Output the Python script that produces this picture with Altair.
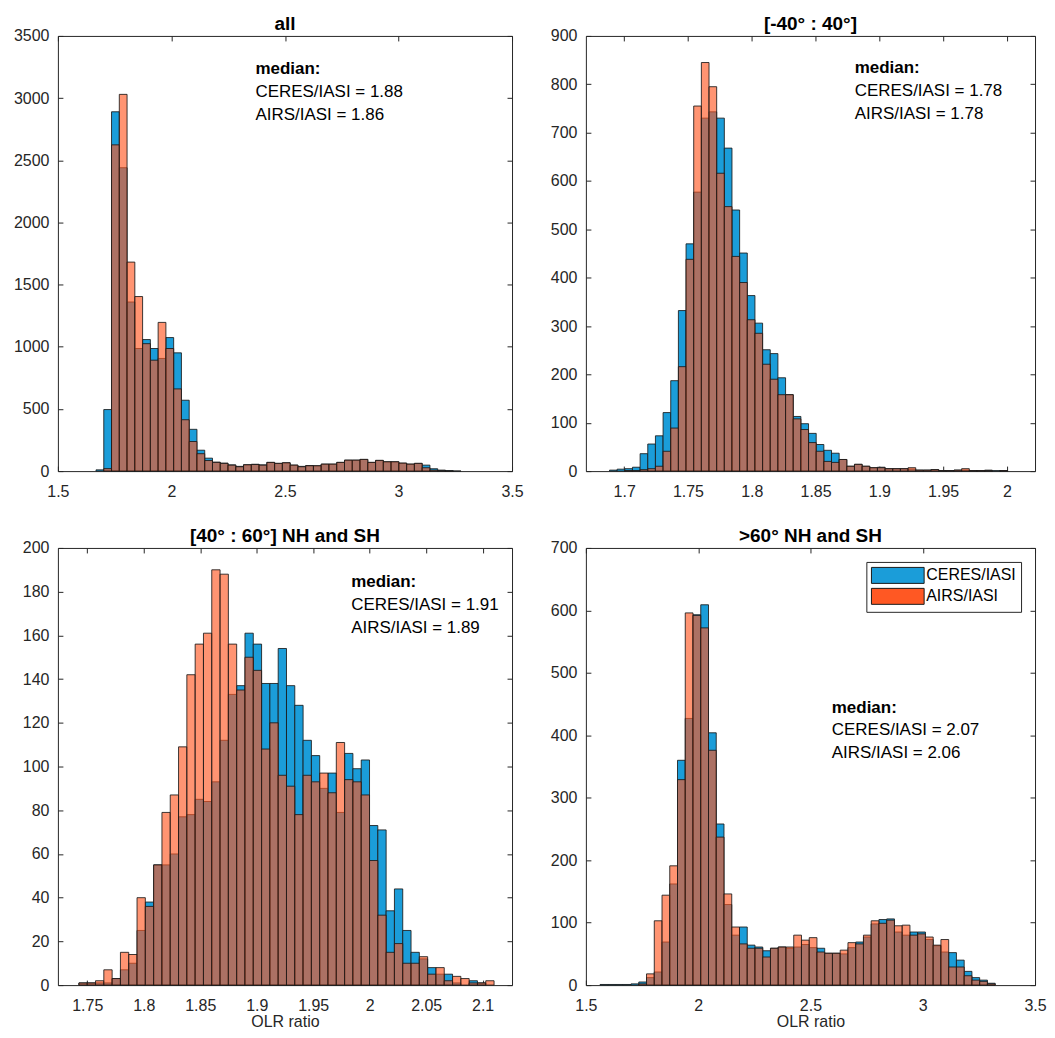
import altair as alt
import pandas as pd

# ---------------- style ----------------
BLUE = "#1b9dd9"
ORANGE = "#ff5823"
ORANGE_ALPHA = 0.64
EDGE = "#1a1a1a"
INK = "#262626"
FONT = "Liberation Sans"
SERIES = ["CERES/IASI", "AIRS/IASI"]

# ---------------- data ----------------
# panel 1: all
p1_start, p1_width = 1.6678, 0.0342
p1_ceres = [10, 495, 2890, 2440, 1360, 986, 1058, 986, 906, 1074, 951, 570, 336, 168, 104,
            72, 64, 50, 38, 51, 55, 50, 70, 62, 67, 48, 38, 45, 43, 56, 56, 70, 88, 88, 94,
            70, 86, 75, 75, 64, 56, 62, 48, 19, 8, 3, 1]
p1_airs = [0, 20, 2624, 3030, 1681, 1404, 1025, 892, 1196, 986, 661, 413, 238, 140, 85,
           70, 62, 48, 35, 51, 53, 48, 70, 62, 67, 48, 35, 43, 43, 56, 56, 70, 88, 88, 94,
           70, 86, 75, 75, 64, 56, 62, 27, 8, 3, 1, 0]

# panel 2: [-40 : 40]
p2_start, p2_width = 1.6885, 0.006
p2_ceres = [2, 4, 5, 8, 36, 56, 73, 121, 187, 332, 470, 577, 730, 743, 730, 668, 540, 451,
            363, 306, 251, 243, 193, 158, 113, 98, 78, 55, 43, 37, 24, 10, 14, 10, 7, 8, 5,
            5, 5, 4, 2, 2, 3, 1, 1, 2, 2, 1, 1, 2, 1, 1, 0]
p2_airs = [0, 0, 1, 1, 3, 5, 10, 41, 89, 216, 438, 755, 845, 795, 616, 547, 444, 390,
           313, 285, 221, 190, 158, 158, 108, 86, 59, 41, 20, 18, 24, 10, 14, 10, 7, 7, 5,
           5, 5, 7, 2, 2, 3, 1, 1, 2, 5, 1, 1, 1, 0, 1, 0]

# panel 3: [40 : 60] NH and SH
p3_start, p3_width = 1.7426, 0.00735
p3_ceres = [1, 1, 1, 1, 3, 7, 10, 25, 38, 55, 55, 60, 77, 78, 85, 84, 93, 112, 133, 137,
            161, 156, 138, 138, 154, 137, 128, 112, 105, 90, 97, 79, 106, 99, 103, 73, 71,
            34, 44, 25, 15, 12, 8, 5, 5, 1, 0, 2, 1, 0]
p3_airs = [1, 1, 2, 7, 3, 15, 14, 40, 36, 55, 79, 87, 109, 142, 156, 161, 190, 188, 156,
           135, 150, 144, 108, 120, 96, 91, 78, 96, 93, 97, 88, 111, 94, 93, 87, 57, 32,
           15, 19, 10, 10, 13, 5, 8, 2, 4, 3, 1, 1, 2]

# panel 4: >60 NH and SH
p4_start, p4_width = 1.563, 0.0345
p4_ceres = [1, 1, 1, 1, 2, 5, 12, 21, 69, 162, 360, 427, 593, 609, 404, 258, 129, 80, 93,
            64, 61, 55, 59, 61, 59, 61, 65, 60, 59, 51, 51, 50, 60, 69, 77, 98, 105, 106,
            85, 80, 85, 85, 73, 63, 53, 52, 40, 22, 12, 8, 3]
p4_airs = [0, 0, 0, 0, 0, 2, 18, 103, 144, 191, 329, 596, 592, 572, 376, 237, 146, 93, 66,
           59, 59, 45, 59, 61, 61, 80, 72, 76, 53, 51, 51, 56, 68, 66, 80, 103, 99, 104,
           95, 96, 80, 82, 77, 64, 73, 29, 29, 15, 8, 6, 2]

titles = ["all", "[-40° : 40°]", "[40° : 60°] NH and SH", ">60° NH and SH"]
medians_ceres = ["1.88", "1.78", "1.91", "2.07"]
medians_airs = ["1.86", "1.78", "1.89", "2.06"]

# annotation anchors (data units of each panel)
note_x = [2.37, 1.8807, 1.9836, 2.595]
note_y = [[3235, 3050, 2866], [833, 786, 738], [184.6, 174.1, 163.6], [444.5, 407.8, 371.1]]

x_domains = [[1.5, 3.5], [1.670, 2.022], [1.724, 2.126], [1.5, 3.5]]
x_ticks = [[1.5, 2, 2.5, 3, 3.5],
           [1.7, 1.75, 1.8, 1.85, 1.9, 1.95, 2.0],
           [1.75, 1.8, 1.85, 1.9, 1.95, 2.0, 2.05, 2.1],
           [1.5, 2, 2.5, 3, 3.5]]
y_domains = [[0, 3500], [0, 900], [0, 200], [0, 700]]
y_ticks = [list(range(0, 3501, 500)), list(range(0, 901, 100)),
           list(range(0, 201, 20)), list(range(0, 701, 100))]

panel_w = [455, 450, 455, 450]
panel_h = [436, 436, 438, 438]


def bins_df(start, width, ceres, airs):
    rows = []
    for name, counts in ((SERIES[0], ceres), (SERIES[1], airs)):
        for i, c in enumerate(counts):
            if c > 0:
                x0 = start + i * width
                rows.append({"series": name, "x0": x0, "x1": x0 + width, "count": c})
    return pd.DataFrame(rows)


def panel(i, df, xtitle=None, legend=False):
    xscale = alt.Scale(domain=x_domains[i], nice=False, zero=False)
    yscale = alt.Scale(domain=y_domains[i], nice=False, zero=False)

    bottom_kw = dict(orient="bottom", values=x_ticks[i], format="~r", offset=-5,
                     labelPadding=12, tickSize=5, labelFlush=False, labelOverlap=False)
    if xtitle:
        bottom_kw.update(title=xtitle, titlePadding=0)
    else:
        bottom_kw.update(title=None)
    ax_bottom = alt.Axis(**bottom_kw)
    ax_left = alt.Axis(orient="left", values=y_ticks[i], format="~r", offset=-5,
                       labelPadding=9, tickSize=5, labelFlush=False, labelOverlap=False,
                       title=None)
    ax_top = alt.Axis(orient="top", values=x_ticks[i], labels=False, offset=-5, tickSize=5,
                      title=None)
    ax_right = alt.Axis(orient="right", values=y_ticks[i], labels=False, offset=-5,
                        tickSize=5, title=None)

    if legend:
        leg = alt.Legend(title=None, orient="top-right", offset=14, padding=5,
                         strokeColor=INK, fillColor="white", cornerRadius=0,
                         symbolType="M-3.3,-1H3.3V1H-3.3Z", symbolSize=256,
                         symbolOffset=18, labelOffset=20, rowPadding=0,
                         symbolStrokeColor=EDGE, symbolStrokeWidth=1,
                         labelFont=FONT, labelFontSize=16, labelColor="#000",
                         labelLimit=300)
    else:
        leg = None

    bars = alt.Chart(df).mark_rect(stroke=EDGE, strokeWidth=1, strokeOpacity=0.85).encode(
        x=alt.X("x0:Q", scale=xscale, axis=ax_bottom),
        x2="x1:Q",
        y=alt.Y("count:Q", scale=yscale, axis=ax_left),
        y2=alt.datum(0),
        color=alt.Color("series:N", scale=alt.Scale(domain=SERIES, range=[BLUE, ORANGE]),
                        legend=leg),
        fillOpacity=alt.FillOpacity("series:N",
                                    scale=alt.Scale(type="ordinal", domain=SERIES,
                                                    range=[1, ORANGE_ALPHA]),
                                    legend=leg),
    )

    texts = ["median:", f"CERES/IASI = {medians_ceres[i]}", f"AIRS/IASI = {medians_airs[i]}"]
    bold_df = pd.DataFrame({"x": [note_x[i]], "y": [note_y[i][0]], "t": [texts[0]]})
    norm_df = pd.DataFrame({"x": [note_x[i]] * 2, "y": note_y[i][1:], "t": texts[1:]})

    bold = alt.Chart(bold_df).mark_text(align="left", baseline="middle", font=FONT,
                                        fontSize=17, fontWeight="bold", color="#000").encode(
        x=alt.X("x:Q", scale=xscale, axis=None),
        y=alt.Y("y:Q", scale=yscale, axis=None),
        text="t:N",
    )
    normal = alt.Chart(norm_df).mark_text(align="left", baseline="middle", font=FONT,
                                          fontSize=17, color="#000").encode(
        x=alt.X("x:Q", scale=xscale, axis=ax_top),
        y=alt.Y("y:Q", scale=yscale, axis=ax_right),
        text="t:N",
    )
    return alt.layer(bars, bold, normal).resolve_axis(
        x="independent", y="independent"
    ).properties(width=panel_w[i], height=panel_h[i], title=alt.TitleParams(text=titles[i]))


d1 = bins_df(p1_start, p1_width, p1_ceres, p1_airs)
d2 = bins_df(p2_start, p2_width, p2_ceres, p2_airs)
d3 = bins_df(p3_start, p3_width, p3_ceres, p3_airs)
d4 = bins_df(p4_start, p4_width, p4_ceres, p4_airs)

c1 = panel(0, d1)
c2 = panel(1, d2)
c3 = panel(2, d3, xtitle="OLR ratio")
c4 = panel(3, d4, xtitle="OLR ratio", legend=True)

chart = alt.concat(
    c1, c2, c3, c4, columns=2, bounds="flush", spacing={"row": 77, "column": 74}
).resolve_scale(
    x="independent", y="independent", color="independent", fillOpacity="independent"
).resolve_legend(
    color="independent", fillOpacity="independent"
).properties(
    padding={"left": 4, "top": 5, "right": 0, "bottom": 5}
).configure(
    background="white", font=FONT
).configure_view(
    stroke=INK, strokeWidth=1
).configure_axis(
    labelFont=FONT, labelFontSize=16, labelColor=INK, tickColor=INK, tickWidth=1,
    domain=False, grid=False, titleFont=FONT, titleFontSize=16, titleColor=INK,
    titleFontWeight="normal"
).configure_title(
    font=FONT, fontSize=19, fontWeight="bold", color="#000", anchor="middle",
    offset=-6, baseline="alphabetic"
)

chart.save("out.html", embed_options={"renderer": "svg", "actions": False})
